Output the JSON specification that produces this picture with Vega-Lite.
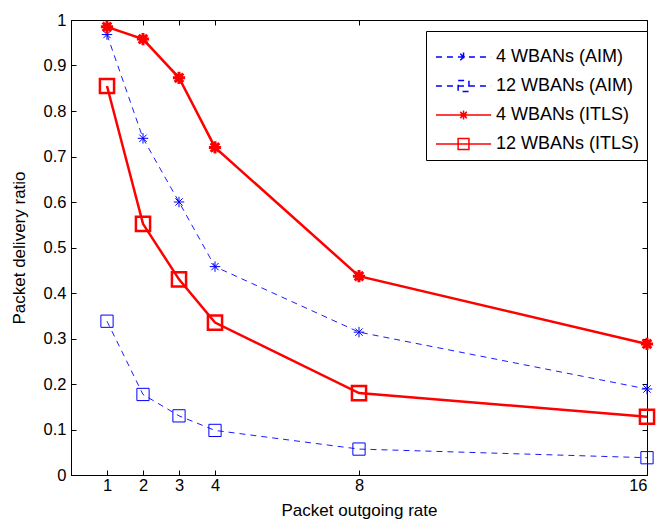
{
  "$schema": "https://vega.github.io/schema/vega-lite/v6.json",
  "width": 576,
  "height": 455,
  "autosize": {"type": "none"},
  "padding": {"left": 71, "top": 20, "right": 10, "bottom": 47},
  "background": "white",
  "config": {
    "view": {"stroke": "black", "strokeWidth": 1},
    "font": "Liberation Sans",
    "axis": {"grid": false, "domainColor": "black", "tickColor": "black", "labelColor": "black", "titleColor": "black", "labelFont": "Liberation Sans", "titleFont": "Liberation Sans", "labelFontSize": 16.5, "titleFontSize": 17, "titleFontWeight": "normal", "tickSize": -5},
    "legend": {"orient": "none", "legendX": 355, "legendY": 11, "strokeColor": "black", "fillColor": "white", "padding": 7, "labelFont": "Liberation Sans", "labelFontSize": 18, "labelColor": "black", "symbolSize": 1300, "symbolStrokeWidth": 1.5, "rowPadding": 1, "labelOffset": 25, "labelLimit": 300}
  },
  "data": {"values": [
    {"series": "4 WBANs (AIM)", "rate": 1, "ratio": 0.968},
    {"series": "4 WBANs (AIM)", "rate": 2, "ratio": 0.74},
    {"series": "4 WBANs (AIM)", "rate": 3, "ratio": 0.6},
    {"series": "4 WBANs (AIM)", "rate": 4, "ratio": 0.458},
    {"series": "4 WBANs (AIM)", "rate": 8, "ratio": 0.314},
    {"series": "4 WBANs (AIM)", "rate": 16, "ratio": 0.189},
    {"series": "12 WBANs (AIM)", "rate": 1, "ratio": 0.338},
    {"series": "12 WBANs (AIM)", "rate": 2, "ratio": 0.177},
    {"series": "12 WBANs (AIM)", "rate": 3, "ratio": 0.13},
    {"series": "12 WBANs (AIM)", "rate": 4, "ratio": 0.098},
    {"series": "12 WBANs (AIM)", "rate": 8, "ratio": 0.057},
    {"series": "12 WBANs (AIM)", "rate": 16, "ratio": 0.038},
    {"series": "4 WBANs (ITLS)", "rate": 1, "ratio": 0.985},
    {"series": "4 WBANs (ITLS)", "rate": 2, "ratio": 0.958},
    {"series": "4 WBANs (ITLS)", "rate": 3, "ratio": 0.873},
    {"series": "4 WBANs (ITLS)", "rate": 4, "ratio": 0.72},
    {"series": "4 WBANs (ITLS)", "rate": 8, "ratio": 0.437},
    {"series": "4 WBANs (ITLS)", "rate": 16, "ratio": 0.288},
    {"series": "12 WBANs (ITLS)", "rate": 1, "ratio": 0.855},
    {"series": "12 WBANs (ITLS)", "rate": 2, "ratio": 0.552},
    {"series": "12 WBANs (ITLS)", "rate": 3, "ratio": 0.43},
    {"series": "12 WBANs (ITLS)", "rate": 4, "ratio": 0.335},
    {"series": "12 WBANs (ITLS)", "rate": 8, "ratio": 0.18},
    {"series": "12 WBANs (ITLS)", "rate": 16, "ratio": 0.128}
  ]},
  "layer": [
    {
      "transform": [{"filter": {"field": "series", "oneOf": ["4 WBANs (AIM)", "12 WBANs (AIM)"]}}],
      "mark": {"type": "line", "clip": false, "color": "#0000ff", "strokeWidth": 0.9, "strokeDash": [6, 5]},
      "encoding": {
        "x": {"field": "rate", "type": "quantitative", "scale": {"domain": [0, 16], "nice": false, "zero": false}, "axis": {"values": [1, 2, 3, 4, 8, 16], "title": "Packet outgoing rate", "titlePadding": 9, "labelPadding": 7}},
        "y": {"field": "ratio", "type": "quantitative", "scale": {"domain": [0, 1], "nice": false}, "axis": {"values": [0, 0.1, 0.2, 0.3, 0.4, 0.5, 0.6, 0.7, 0.8, 0.9, 1], "format": "~g", "title": "Packet delivery ratio", "titlePadding": 15, "labelPadding": 10}},
        "detail": {"field": "series", "type": "nominal"}
      }
    },
    {
      "transform": [{"filter": {"field": "series", "equal": "4 WBANs (AIM)"}}],
      "mark": {"type": "point", "clip": false, "filled": false, "opacity": 1, "color": "#0000ff", "strokeWidth": 1, "size": 110, "shape": "M-1,0H1M0,-1V1M-0.7,-0.7L0.7,0.7M-0.7,0.7L0.7,-0.7"},
      "encoding": {
        "x": {"field": "rate", "type": "quantitative", "axis": null},
        "y": {"field": "ratio", "type": "quantitative", "axis": null}
      }
    },
    {
      "transform": [{"filter": {"field": "series", "equal": "12 WBANs (AIM)"}}],
      "mark": {"type": "point", "clip": false, "filled": false, "opacity": 1, "color": "#0000ff", "strokeWidth": 1, "size": 150, "shape": "M-1,-1H1V1H-1Z"},
      "encoding": {
        "x": {"field": "rate", "type": "quantitative", "axis": null},
        "y": {"field": "ratio", "type": "quantitative", "axis": null}
      }
    },
    {
      "transform": [{"filter": {"field": "series", "oneOf": ["4 WBANs (ITLS)", "12 WBANs (ITLS)"]}}],
      "mark": {"type": "line", "clip": false, "color": "#ff0000", "strokeWidth": 2.5},
      "encoding": {
        "x": {"field": "rate", "type": "quantitative", "axis": {"orient": "top", "values": [1, 2, 3, 4, 8, 16], "labels": false, "title": null, "domain": false}},
        "y": {"field": "ratio", "type": "quantitative", "axis": {"orient": "right", "values": [0, 0.1, 0.2, 0.3, 0.4, 0.5, 0.6, 0.7, 0.8, 0.9, 1], "labels": false, "title": null, "domain": false}},
        "detail": {"field": "series", "type": "nominal"}
      }
    },
    {
      "transform": [{"filter": {"field": "series", "equal": "4 WBANs (ITLS)"}}],
      "mark": {"type": "point", "clip": false, "filled": false, "opacity": 1, "color": "#ff0000", "strokeWidth": 3, "size": 150, "shape": "M-1,0H1M0,-1V1M-0.7,-0.7L0.7,0.7M-0.7,0.7L0.7,-0.7"},
      "encoding": {
        "x": {"field": "rate", "type": "quantitative", "axis": null},
        "y": {"field": "ratio", "type": "quantitative", "axis": null}
      }
    },
    {
      "transform": [{"filter": {"field": "series", "equal": "12 WBANs (ITLS)"}}],
      "mark": {"type": "point", "clip": false, "filled": false, "opacity": 1, "color": "#ff0000", "strokeWidth": 2.5, "size": 200, "shape": "M-1,-1H1V1H-1Z"},
      "encoding": {
        "x": {"field": "rate", "type": "quantitative", "axis": null},
        "y": {"field": "ratio", "type": "quantitative", "axis": null}
      }
    },
    {
      "transform": [{"filter": {"field": "rate", "lt": 0}}],
      "mark": {"type": "point", "filled": false, "opacity": 1, "strokeWidth": 1.5},
      "encoding": {
        "color": {"field": "series", "type": "nominal", "scale": {"domain": ["4 WBANs (AIM)", "12 WBANs (AIM)", "4 WBANs (ITLS)", "12 WBANs (ITLS)"], "range": ["#0000ff", "#0000ff", "#ff0000", "#ff0000"]}, "legend": {"title": null}},
        "shape": {"field": "series", "type": "nominal", "scale": {"domain": ["4 WBANs (AIM)", "12 WBANs (AIM)", "4 WBANs (ITLS)", "12 WBANs (ITLS)"], "range": ["M-0.89,0H2.17M0.64,-0.25V0.25M0.46,-0.18L0.82,0.18M0.46,0.18L0.82,-0.18", "M-0.89,0H2.17M0.34,-0.3H0.94V0.3H0.34Z", "M-0.89,0H2.17M0.64,-0.25V0.25M0.46,-0.18L0.82,0.18M0.46,0.18L0.82,-0.18M0.52,-0.06H0.76V0.06H0.52Z", "M-0.89,0H2.17M0.34,-0.3H0.94V0.3H0.34Z"]}, "legend": {"title": null}},
        "strokeDash": {"field": "series", "type": "nominal", "scale": {"domain": ["4 WBANs (AIM)", "12 WBANs (AIM)", "4 WBANs (ITLS)", "12 WBANs (ITLS)"], "range": [[6, 5], [6, 5], [1, 0], [1, 0]]}, "legend": {"title": null}}
      }
    }
  ],
  "resolve": {"axis": {"x": "independent", "y": "independent"}}
}
